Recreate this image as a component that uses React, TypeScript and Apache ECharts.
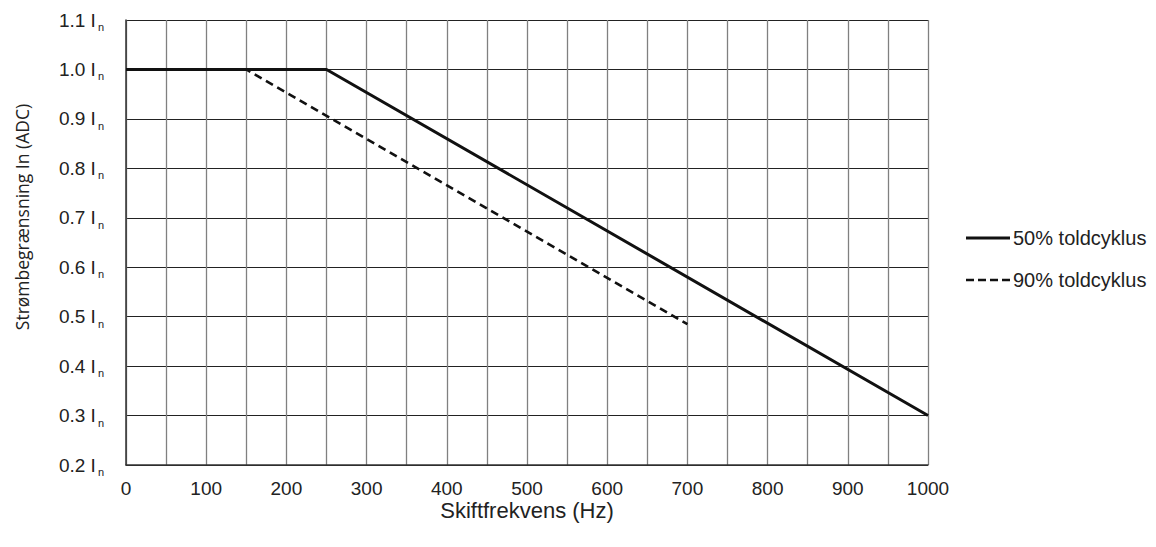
import React, { useEffect, useRef } from "react";
import * as echarts from "echarts";

const freq50 = [0, 250, 1000];
const lim50 = [1.0, 1.0, 0.3];
const freq90 = [0, 150, 700];
const lim90 = [1.0, 1.0, 0.485];
const seriesNames = ["50% toldcyklus", "90% toldcyklus"];
const xTitle = "Skiftfrekvens (Hz)";
const yTitle = "Strømbegrænsning In (ADC)";

export default function App() {
  const ref = useRef<HTMLDivElement>(null);
  useEffect(() => {
    const chart = echarts.init(ref.current!, undefined, { renderer: "svg" });
    const font = "'Liberation Sans', Arial, sans-serif";
    const titleFont = "'Open Sans', 'Noto Sans', sans-serif";
    const legendRows = [238, 280];
    const legendDash: any[] = [null, [8, 4]];
    const graphics: any[] = [];
    seriesNames.forEach((name, i) => {
      graphics.push({
        type: "line",
        shape: { x1: 966, y1: legendRows[i], x2: 1010, y2: legendRows[i] },
        style: { stroke: "#111", lineWidth: i === 0 ? 2.8 : 2.6, lineDash: legendDash[i] },
      });
      graphics.push({
        type: "text",
        x: 1013,
        y: legendRows[i],
        style: {
          text: name,
          fontSize: 20,
          fontFamily: font,
          fill: "#222",
          verticalAlign: "middle",
        },
      });
    });
    graphics.push({
      type: "text",
      x: 22,
      y: 217,
      rotation: Math.PI / 2,
      style: {
        text: yTitle,
        fontSize: 17.5,
        fontFamily: titleFont,
        fill: "#222",
        align: "center",
        verticalAlign: "middle",
      },
    });
    chart.setOption({
      animation: false,
      textStyle: { fontFamily: font },
      grid: { left: 126, right: 228, top: 20, bottom: 82, containLabel: false, outerBoundsMode: "none" },
      graphic: graphics,
      xAxis: {
        type: "value",
        min: 0,
        max: 1000,
        interval: 50,
        name: xTitle,
        nameLocation: "middle",
        nameGap: 34,
        nameMoveOverlap: false,
        nameTextStyle: { fontSize: 22, color: "#222", fontFamily: font },
        axisLine: { show: true, lineStyle: { color: "#333", width: 1.5 } },
        axisTick: { show: false },
        axisLabel: {
          fontSize: 19,
          color: "#222",
          margin: 14,
          formatter: (v: number) => (v % 100 === 0 ? String(v) : ""),
        },
        splitLine: { show: true, lineStyle: { color: "#808080", width: 1.3 } },
      },
      yAxis: {
        type: "value",
        min: 0.2,
        max: 1.1,
        interval: 0.1,
        axisLine: { show: true, lineStyle: { color: "#333", width: 1.5 } },
        axisTick: { show: false },
        axisLabel: {
          margin: 22,
          formatter: (v: number) => `{a|${v.toFixed(1)} I}{b|n}`,
          rich: {
            a: { fontSize: 19, color: "#222", fontFamily: font },
            b: { fontSize: 11, color: "#222", fontFamily: font, padding: [14, 0, 0, 2] },
          },
        },
        splitLine: { show: true, lineStyle: { color: "#222", width: 1 } },
      },
      series: [
        {
          name: seriesNames[0],
          type: "line",
          data: freq50.map((x, i) => [x, lim50[i]]),
          symbol: "none",
          lineStyle: { color: "#111", width: 3, type: "solid" },
          z: 3,
        },
        {
          name: seriesNames[1],
          type: "line",
          data: freq90.map((x, i) => [x, lim90[i]]),
          symbol: "none",
          lineStyle: { color: "#111", width: 2.6, type: [8, 5] },
          z: 4,
        },
      ],
    });
    return () => chart.dispose();
  }, []);
  return (
    <div
      ref={ref}
      style={{ position: "fixed", left: 0, top: 0, width: 1156, height: 547, background: "#fff" }}
    />
  );
}
